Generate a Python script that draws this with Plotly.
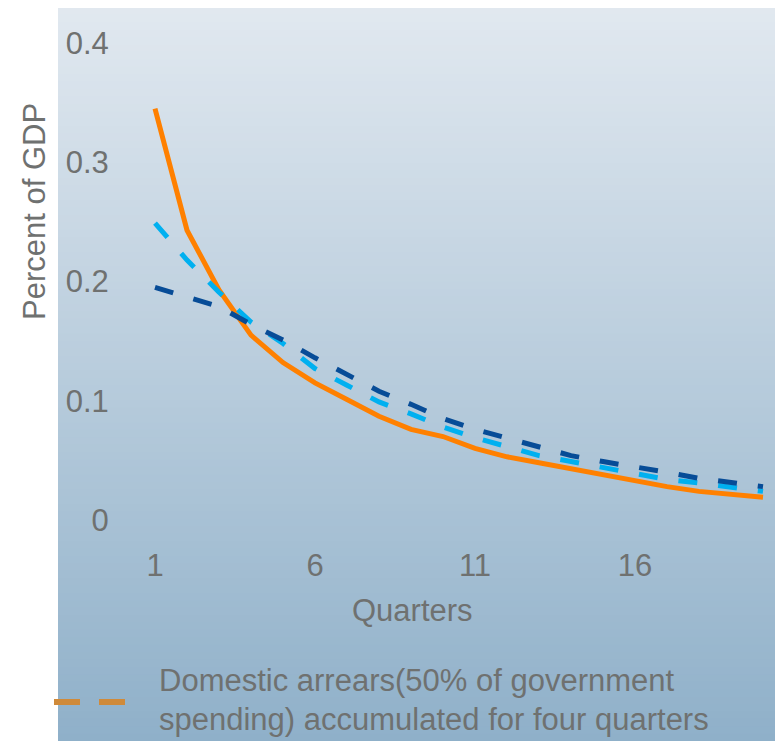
import plotly.graph_objects as go

# dati
quarters = list(range(1, 21))
arrears_4q = [0.345, 0.243, 0.193, 0.155, 0.132, 0.115, 0.101, 0.087, 0.076, 0.070,
              0.060, 0.053, 0.048, 0.043, 0.037, 0.032, 0.028, 0.024, 0.022, 0.019]
series_light = [0.249, 0.218, 0.191, 0.166, 0.148, 0.127, 0.113, 0.099, 0.089, 0.078,
                0.069, 0.062, 0.054, 0.049, 0.044, 0.039, 0.034, 0.031, 0.028, 0.024]
series_dark = [0.195, 0.187, 0.179, 0.164, 0.151, 0.136, 0.122, 0.108, 0.097, 0.085,
               0.076, 0.069, 0.061, 0.054, 0.049, 0.045, 0.040, 0.035, 0.031, 0.028]
x_ticks = [1, 6, 11, 16]
y_ticks = [0, 0.1, 0.2, 0.3, 0.4]
y_ticktext = ["0", "0.1", "0.2", "0.3", "0.4"]
legend_lines = ["Domestic arrears(50% of government",
                "spending) accumulated for four quarters"]

# la pagina ha 8px di margine nel body: la figura parte da (8, 8)
OFF = 8
W, H = 783 - OFF, 741 - OFF
L, R, T, B = 131, 4, 35, 221
FONT = "Liberation Sans, Arial, sans-serif"
FS = 31
GRAY = "#6f7170"

pw, ph = W - L - R, H - T - B


def px_x(x):
    # x in pixel dello schermo -> coordinate paper
    return (x - OFF - L) / pw


def px_y(y):
    return (H - B - (y - OFF)) / ph


fig = go.Figure()
fig.add_trace(go.Scatter(x=quarters, y=arrears_4q, mode="lines",
                         line=dict(color="#ff8000", width=5), showlegend=False))
fig.add_trace(go.Scatter(x=quarters, y=series_light, mode="lines",
                         line=dict(color="#00b0f0", width=5, dash="19px,21px"),
                         showlegend=False))
fig.add_trace(go.Scatter(x=quarters, y=series_dark, mode="lines",
                         line=dict(color="#074c97", width=5, dash="19px,21px"),
                         showlegend=False))

# sfondo sfumato
shapes = []
top_c = (226, 233, 240)
bot_c = (143, 176, 201)
n = 100
step = 741 / n
for k in range(n):
    t = (k + 0.5) / n
    c = tuple(round(a + (b - a) * t) for a, b in zip(top_c, bot_c))
    y0 = k * step
    y1 = (k + 1) * step + 2
    shapes.append(dict(type="rect", xref="paper", yref="paper", layer="below",
                       x0=px_x(58), x1=px_x(790), y0=px_y(y1), y1=px_y(y0),
                       fillcolor="rgb(%d,%d,%d)" % c, line=dict(width=0)))

# chiave della legenda
for xa, xb in [(54, 80), (99, 125)]:
    shapes.append(dict(type="line", xref="paper", yref="paper",
                       x0=px_x(xa), x1=px_x(xb), y0=px_y(702), y1=px_y(702),
                       line=dict(color="#cf8a3a", width=6)))

annotations = [
    dict(text="Percent of GDP", textangle=-90, xref="paper", yref="paper",
         x=px_x(35), y=px_y(212), xanchor="center", yanchor="middle",
         showarrow=False, font=dict(family=FONT, size=FS, color=GRAY)),
    dict(text="Quarters", xref="paper", yref="paper",
         x=px_x(412), y=px_y(610), xanchor="center", yanchor="middle",
         showarrow=False, font=dict(family=FONT, size=FS, color=GRAY)),
]
for i, line in enumerate(legend_lines):
    annotations.append(dict(text=line, xref="paper", yref="paper",
                            x=px_x(157), y=px_y(680 + 39 * i),
                            xanchor="left", yanchor="middle", showarrow=False,
                            font=dict(family=FONT, size=FS, color=GRAY)))

fig.update_layout(
    width=W, height=H,
    margin=dict(l=L, r=R, t=T, b=B, autoexpand=False),
    paper_bgcolor="white", plot_bgcolor="rgba(0,0,0,0)",
    font=dict(family=FONT, size=FS, color=GRAY),
    xaxis=dict(range=[0.5, 20.5], tickvals=x_ticks, showgrid=False,
               zeroline=False, showline=False, ticks="outside", ticklen=18,
               tickcolor="rgba(0,0,0,0)"),
    yaxis=dict(range=[0, 0.4], tickvals=y_ticks, ticktext=y_ticktext,
               showgrid=False, zeroline=False, showline=False,
               ticks="outside", ticklen=23, tickcolor="rgba(0,0,0,0)"),
    shapes=shapes, annotations=annotations, showlegend=False,
)

fig.write_html("out.html")
